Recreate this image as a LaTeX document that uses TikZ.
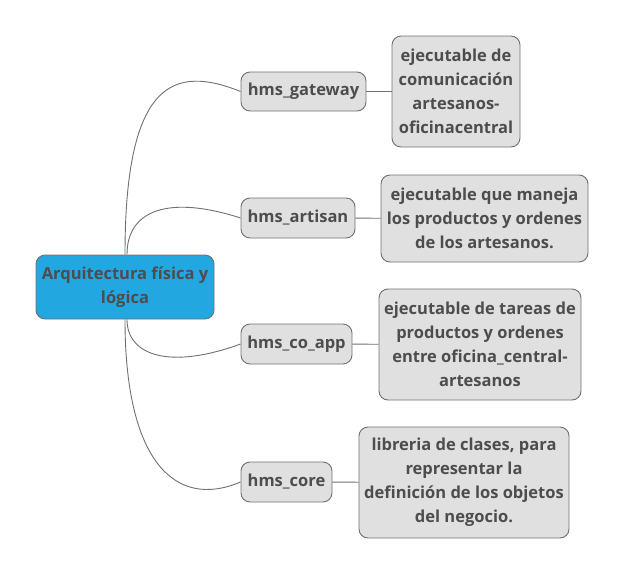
\documentclass[tikz,border=0pt]{standalone}
\usepackage{fontspec}
\setmainfont{Open Sans}
\definecolor{txtgray}{HTML}{4D4D4D}
\definecolor{linegray}{HTML}{707070}
\definecolor{rootblue}{HTML}{22A7E0}
\definecolor{boxgray}{HTML}{E0E0E0}
\tikzset{
    every node/.style={draw=linegray, line width=0.9pt, rounded corners=9pt, text=txtgray,
      font=\bfseries\fontsize{16.5}{24}\selectfont, align=center, inner sep=0pt}
}
\tikzset{rootbox/.style={fill=rootblue}, topicbox/.style={fill=boxgray}, descbox/.style={fill=boxgray}}
\tikzset{branch/.style={draw=linegray, line width=0.9pt}}

\begin{document}
\begin{tikzpicture}[x=1pt, y=-1pt]
  \useasboundingbox (0,0) rectangle (625,576);
  \node (root) [rootbox, minimum width=178pt, minimum height=64pt] at (125,287) {Arquitectura física y\\lógica};

  \node (gw) [topicbox, minimum width=125pt, minimum height=39pt] at (303.5,91.5) {hms\_gateway};
  \node (art) [topicbox, minimum width=114pt, minimum height=40pt] at (298,218) {hms\_artisan};
  \node (coapp) [topicbox, minimum width=111pt, minimum height=40pt] at (296.5,344) {hms\_co\_app};
  \node (core) [topicbox, minimum width=91pt, minimum height=40pt] at (286.5,482) {hms\_core};

  \node (gwd) [descbox, minimum width=128pt, minimum height=111pt] at (456,91.5) {ejecutable de\\comunicación\\artesanos-\\oficinacentral};
  \node (artd) [descbox, minimum width=207pt, minimum height=87pt] at (484.5,218.5) {ejecutable que maneja\\los productos y ordenes\\de los artesanos.};
  \node (coappd) [descbox, minimum width=202pt, minimum height=111pt] at (480,344.5) {ejecutable de tareas de\\productos y ordenes\\entre oficina\_central-\\artesanos};
  \node (cored) [descbox, minimum width=210pt, minimum height=111pt] at (464,482.5) {libreria de clases, para\\representar la\\definición de los objetos\\del negocio.};

  \draw [branch] (root.north) .. controls +(0,-175) and +(-66,-26.5) .. (gw.west);
  \draw [branch] ([xshift=2pt]root.north) .. controls +(0,-45) and +(-71,-23) .. (art.west);
  \draw [branch] ([xshift=2pt]root.south) .. controls +(0,36) and +(-71,26) .. (coapp.west);
  \draw [branch] (root.south) .. controls +(0,141) and +(-66,28) .. (core.west);

  \draw [branch] (gw) -- (gwd);
  \draw [branch] (art) -- (artd);
  \draw [branch] (coapp) -- (coappd);
  \draw [branch] (core) -- (cored);
\end{tikzpicture}
\end{document}
